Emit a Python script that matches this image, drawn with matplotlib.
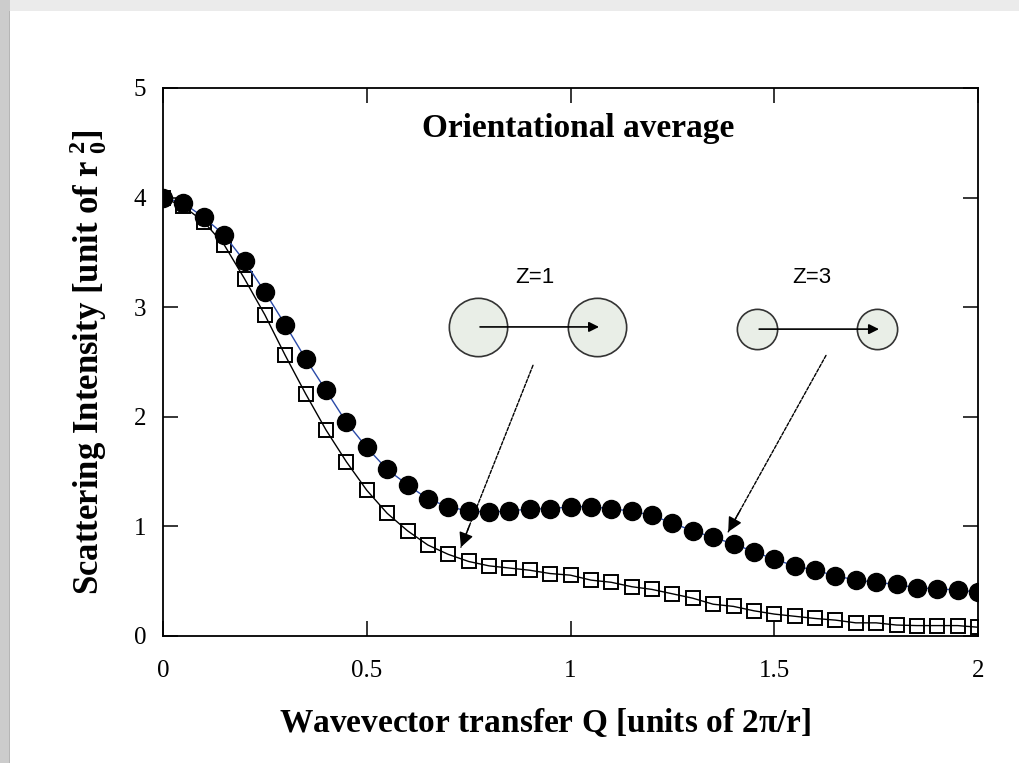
import matplotlib
matplotlib.use("Agg")
import matplotlib.pyplot as plt
from matplotlib.patches import Rectangle

# wavevector transfer Q [units of 2pi/r]
q = [0.00, 0.05, 0.10, 0.15, 0.20, 0.25, 0.30, 0.35, 0.40, 0.45,
     0.50, 0.55, 0.60, 0.65, 0.70, 0.75, 0.80, 0.85, 0.90, 0.95,
     1.00, 1.05, 1.10, 1.15, 1.20, 1.25, 1.30, 1.35, 1.40, 1.45,
     1.50, 1.55, 1.60, 1.65, 1.70, 1.75, 1.80, 1.85, 1.90, 1.95, 2.00]

# Z=3 (filled circles)
intensity_z3 = [4.00, 3.95, 3.82, 3.66, 3.42, 3.14, 2.84, 2.53, 2.24, 1.95,
                1.72, 1.52, 1.38, 1.25, 1.18, 1.14, 1.13, 1.14, 1.16, 1.16,
                1.18, 1.18, 1.16, 1.14, 1.10, 1.03, 0.96, 0.90, 0.84, 0.77,
                0.70, 0.64, 0.60, 0.55, 0.51, 0.49, 0.47, 0.44, 0.43, 0.42, 0.40]

# Z=1 (open squares)
intensity_z1 = [4.00, 3.92, 3.78, 3.57, 3.26, 2.93, 2.56, 2.21, 1.88, 1.59,
                1.33, 1.12, 0.96, 0.83, 0.745, 0.68, 0.64, 0.62, 0.60, 0.57,
                0.555, 0.51, 0.49, 0.45, 0.425, 0.385, 0.345, 0.29, 0.27, 0.23,
                0.20, 0.18, 0.16, 0.145, 0.12, 0.12, 0.10, 0.095, 0.095, 0.095, 0.08]

x_ticks = [0, 0.5, 1, 1.5, 2]
x_tick_labels = ["0", "0.5", "1", "1.5", "2"]
y_ticks = [0, 1, 2, 3, 4, 5]

# sketch of the two atoms for each case: (Q, I) of left and right atom
z1_atoms = ([0.773, 1.065], [2.82, 2.82])
z3_atoms = ([1.458, 1.752], [2.80, 2.80])

plt.rcParams["font.family"] = ["Liberation Serif", "DejaVu Serif"]
plt.rcParams["mathtext.fontset"] = "custom"
plt.rcParams["mathtext.rm"] = "Liberation Serif:bold"
plt.rcParams["mathtext.it"] = "Liberation Serif:bold"
plt.rcParams["mathtext.bf"] = "Liberation Serif:bold"

fig = plt.figure(figsize=(10.19, 7.63), dpi=100)
fig.patch.set_facecolor("white")
# slide screenshot border
fig.patches.append(Rectangle((0, 1 - 11 / 763), 1, 11 / 763, transform=fig.transFigure,
                             facecolor="#ebebeb", edgecolor="none", zorder=-10))
fig.patches.append(Rectangle((0, 0), 10 / 1019, 1, transform=fig.transFigure,
                             facecolor="#cccccc", edgecolor="none", zorder=-9))
fig.patches.append(Rectangle((9 / 1019, 0), 1.2 / 1019, 1 - 11 / 763, transform=fig.transFigure,
                             facecolor="#b5b5b5", edgecolor="none", zorder=-8))

ax = fig.add_axes([163 / 1019, 1 - 636 / 763, (978 - 163) / 1019, (636 - 88) / 763])

ax.plot(q, intensity_z1, color="black", linewidth=1.0, marker="s", markersize=10.5,
        markerfacecolor="none", markeredgecolor="black", markeredgewidth=1.4, zorder=3)
ax.plot(q, intensity_z3, color="#2a4aa8", linewidth=1.0, marker="o", markersize=13,
        markerfacecolor="black", markeredgecolor="black", zorder=4)

ax.set_xlim(0, 2)
ax.set_ylim(0, 5)
ax.set_xticks(x_ticks)
ax.set_xticklabels(x_tick_labels)
ax.set_yticks(y_ticks)
for s in ax.spines.values():
    s.set_linewidth(1.3)
ax.tick_params(direction="in", length=11, width=1.1, top=True, right=True,
               labelsize=18, colors="black")
ax.tick_params(axis="x", pad=17)
ax.tick_params(axis="y", pad=12)

ax.set_xlabel("Wavevector transfer Q [units of 2$\\pi$/r]", fontsize=24, fontweight="bold")
ax.xaxis.set_label_coords(0.469, -0.127)
ax.set_ylabel("Scattering Intensity [unit of r$_{\\ 0}^{\\ 2}$]", fontsize=25, fontweight="bold")
ax.yaxis.set_label_coords(-0.066, 0.5)

ax.text(1.02, 4.635, "Orientational average", fontsize=24, fontweight="bold",
        ha="center", va="center")

# atom sketches
ax.plot(z1_atoms[0], z1_atoms[1], linestyle="none", marker="o", markersize=42,
        markerfacecolor="#e9eee7", markeredgecolor="#333333", markeredgewidth=1.2, zorder=5)
ax.plot(z3_atoms[0], z3_atoms[1], linestyle="none", marker="o", markersize=29,
        markerfacecolor="#e9eee7", markeredgecolor="#333333", markeredgewidth=1.2, zorder=5)
for xs, ys in (z1_atoms, z3_atoms):
    ax.annotate("", xy=(xs[1] + 0.005, ys[1]), xytext=(xs[0] + 0.005, ys[0]),
                arrowprops=dict(arrowstyle="-|>", color="black", lw=1.2,
                                mutation_scale=15, shrinkA=0, shrinkB=0), zorder=6)

ax.text(0.913, 3.27, "Z=1", fontsize=16, family="Liberation Sans", ha="center", va="center")
ax.text(1.593, 3.27, "Z=3", fontsize=16, family="Liberation Sans", ha="center", va="center")

# pointers from the sketches to the curves
pointers = [((0.908, 2.47), (0.731, 0.81)), ((1.627, 2.56), (1.387, 0.95))]
for start, tip in pointers:
    ax.annotate("", xy=tip, xytext=start,
                arrowprops=dict(arrowstyle="-", color="black", lw=1.0,
                                linestyle=(0, (2.5, 1.2)), shrinkA=0, shrinkB=0), zorder=6)
    near = (tip[0] + 0.12 * (start[0] - tip[0]), tip[1] + 0.12 * (start[1] - tip[1]))
    ax.annotate("", xy=tip, xytext=near,
                arrowprops=dict(arrowstyle="-|>", color="black", lw=1.0,
                                mutation_scale=22, shrinkA=0, shrinkB=0), zorder=6)

fig.savefig("out.png", dpi=100)
